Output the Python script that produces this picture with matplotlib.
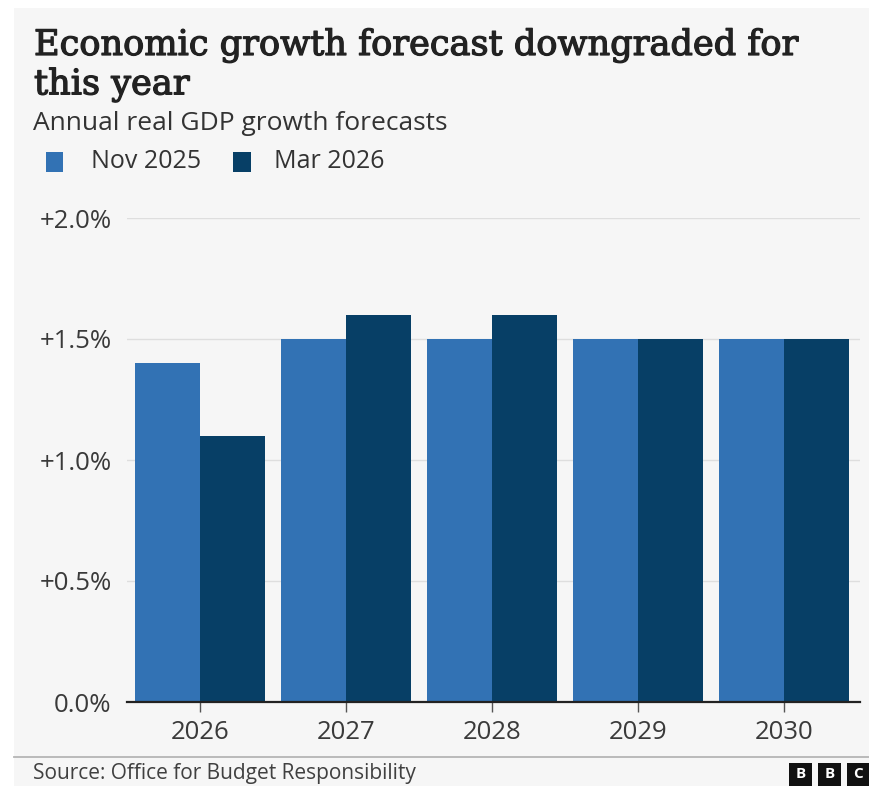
import matplotlib.pyplot as plt
import matplotlib.patheffects as pe
import numpy as np
from matplotlib.patches import Rectangle

# Data
years = ['2026', '2027', '2028', '2029', '2030']
nov_2025 = [1.4, 1.5, 1.5, 1.5, 1.5]
mar_2026 = [1.1, 1.6, 1.6, 1.5, 1.5]
y_ticks = [0.0, 0.5, 1.0, 1.5, 2.0]
y_labels = ['0.0%', '+0.5%', '+1.0%', '+1.5%', '+2.0%']

LIGHT = '#3272b4'
DARK = '#073f66'
BG = '#f6f6f6'
SANS = ['Open Sans', 'DejaVu Sans']
SERIF = ['DejaVu Serif']

W, H = 870, 786


def fx(px):
    return px / W


def fy(py):
    return 1 - py / H


def main():
    fig = plt.figure(figsize=(8.7, 7.86), dpi=100, facecolor='white')
    fig.patches.append(Rectangle((fx(14), 0), 1 - fx(14), fy(8), transform=fig.transFigure,
                                 facecolor=BG, edgecolor='none', zorder=-10))

    ax = fig.add_axes([fx(127), fy(702), fx(860) - fx(127), fy(218) - fy(702)])
    ax.set_facecolor('none')

    x = np.arange(len(years))
    w = 0.447
    ax.bar(x - w / 2, nov_2025, w, color=LIGHT, zorder=3)
    ax.bar(x + w / 2, mar_2026, w, color=DARK, zorder=3)

    ax.set_xlim(-0.5, 4.52)
    ax.set_ylim(0, 2.0)
    ax.set_yticks(y_ticks)
    ax.set_yticklabels(y_labels, fontsize=18.5, color='#3a3a3a', family=SANS)
    ax.set_xticks(x)
    ax.set_xticklabels(years, fontsize=18.5, color='#3a3a3a', family=SANS)
    ax.tick_params(axis='y', length=0, pad=11)
    ax.tick_params(axis='x', length=7, width=1, color='#555555', pad=6)
    ax.grid(axis='y', color='#dedede', linewidth=1, zorder=0)
    for s in ['top', 'right', 'left']:
        ax.spines[s].set_visible(False)
    ax.spines['bottom'].set_color('#222222')
    ax.spines['bottom'].set_linewidth(1.6)
    ax.spines['bottom'].set_zorder(4)

    # title is a medium-weight serif in the original, so thicken regular a bit
    fig.text(fx(34), fy(28), 'Economic growth forecast downgraded for\nthis year', fontsize=25.3,
             family=SERIF, color='#222222', va='top', ha='left', linespacing=1.18,
             path_effects=[pe.withStroke(linewidth=0.9, foreground='#222222')])
    fig.text(fx(33), fy(123), 'Annual real GDP growth forecasts', fontsize=19, family=SANS,
             color='#333333', va='center', ha='left')

    # legend
    fig.patches.append(Rectangle((fx(46), fy(172)), fx(17), fy(152) - fy(172), transform=fig.transFigure,
                                 facecolor=LIGHT, edgecolor='none'))
    fig.text(fx(91), fy(161), 'Nov 2025', fontsize=18, family=SANS, color='#333333', va='center')
    fig.patches.append(Rectangle((fx(233), fy(172)), fx(18), fy(152) - fy(172), transform=fig.transFigure,
                                 facecolor=DARK, edgecolor='none'))
    fig.text(fx(274), fy(161), 'Mar 2026', fontsize=18, family=SANS, color='#333333', va='center')

    # footer
    fig.add_artist(plt.Line2D([fx(14), 1], [fy(757), fy(757)], color='#b5b5b5', linewidth=1.3))
    fig.text(fx(33), fy(774), 'Source: Office for Budget Responsibility', fontsize=15,
             family=SANS, color='#404040', va='center')
    for i, letter in enumerate('BBC'):
        left = 789 + i * 29
        fig.patches.append(Rectangle((fx(left), fy(786)), fx(23), fy(763) - fy(786),
                                     transform=fig.transFigure, facecolor='#111111', edgecolor='none'))
        fig.text(fx(left + 11.5), fy(774.5), letter, fontsize=11, weight='bold', family=SANS,
                 color='white', ha='center', va='center')

    fig.savefig('out.png', dpi=100, facecolor=fig.get_facecolor())


if __name__ == '__main__':
    main()
